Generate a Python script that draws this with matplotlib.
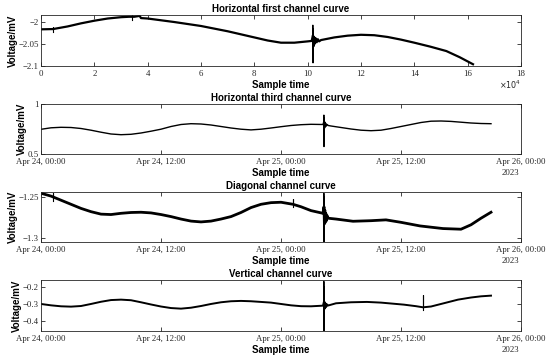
import matplotlib
matplotlib.use('Agg')
import matplotlib.pyplot as plt
import matplotlib.dates as mdates
import datetime as dt

# ---------------- data ----------------
# Panel 1: horizontal first channel (x in units of 1e4 samples)
h1_x = [0, 0.45, 1.0, 1.5, 2.0, 2.5, 3.0, 3.3, 3.5, 3.7, 3.75, 4.0,
        5.0, 6.0, 7.0, 8.0, 8.5, 9.0, 9.5, 10.0, 10.15,
        10.2, 10.22, 10.24, 10.27, 10.3, 10.34, 10.38, 10.43,
        10.5, 11.0, 11.5, 12.0, 12.5, 13.0, 13.5, 14.0, 14.6, 15.2, 15.7, 16.2]
h1_v = [-2.0166, -2.016, -2.010, -2.003, -1.997, -1.992, -1.989, -1.988, -1.988, -1.986, -1.991, -1.992,
        -2.000, -2.009, -2.021, -2.035, -2.042, -2.047, -2.047, -2.044, -2.043,
        -2.030, -2.055, -2.034, -2.049, -2.037, -2.046, -2.039, -2.044,
        -2.041, -2.035, -2.031, -2.029, -2.030, -2.034, -2.040, -2.047, -2.056, -2.066, -2.080, -2.096]
# thin glitches / spike of panel 1
h1_gx = [[0.45, 0.45, 0.45], [3.4, 3.4, 3.4], [10.19, 10.195, 10.2, 10.205, 10.21, 10.215]]
h1_gv = [[-2.016, -2.011, -2.022], [-1.988, -1.984, -1.995],
         [-2.043, -2.007, -2.093, -2.015, -2.072, -2.040]]

# Date panels: hours after 2023-04-24 00:00
h2_t = [0, 1, 2, 3, 4, 5, 6, 7, 8, 9, 10, 11, 12, 13, 14, 15, 16, 17, 18, 19, 20, 21, 22, 23, 24,
        25, 26, 27, 28.2,
        28.3, 28.34, 28.38, 28.43, 28.48, 28.54, 28.62, 28.72,
        29, 30, 31, 32, 33, 34, 35, 36, 37, 38, 39, 40, 41, 42, 43, 44, 45]
h2_v = [0.747, 0.762, 0.767, 0.765, 0.755, 0.738, 0.718, 0.700, 0.693, 0.697, 0.710, 0.728, 0.748,
        0.775, 0.795, 0.803, 0.800, 0.790, 0.775, 0.760, 0.748, 0.741, 0.748, 0.760, 0.773,
        0.785, 0.793, 0.797, 0.795,
        0.83, 0.755, 0.82, 0.77, 0.805, 0.78, 0.795, 0.785,
        0.780, 0.765, 0.750, 0.738, 0.733, 0.738, 0.755, 0.775, 0.795, 0.815, 0.828, 0.830, 0.826,
        0.818, 0.810, 0.805, 0.803]
h2_gt = [[28.28, 28.29, 28.3, 28.31, 28.32]]
h2_gv = [[0.795, 0.89, 0.573, 0.86, 0.79]]

d_t = [0, 1, 2, 3, 4, 5, 6, 7, 8, 9, 10, 11, 12, 13, 14, 15, 16, 17, 18, 19, 20, 21,
       22, 23, 24, 25.2, 26, 27, 28.2,
       28.3, 28.34, 28.38, 28.43, 28.48, 28.54, 28.62, 28.72,
       29.5, 31.2, 33, 34.5, 36, 37.9, 40.2, 42, 43, 44, 45]
d_v = [-1.2455, -1.249, -1.254, -1.259, -1.264, -1.268, -1.271, -1.2715,
       -1.270, -1.2690, -1.2687, -1.2695, -1.2715, -1.274, -1.277, -1.2795, -1.2805, -1.2795,
       -1.277, -1.274, -1.269, -1.263, -1.259, -1.257, -1.2565, -1.259, -1.262,
       -1.2667, -1.270,
       -1.262, -1.283, -1.266, -1.281, -1.270, -1.279, -1.273, -1.276,
       -1.277, -1.2797, -1.279, -1.278, -1.281, -1.2854, -1.2886, -1.2894, -1.284, -1.276, -1.2687]
d_gt = [[1.2, 1.2, 1.2], [25.2, 25.2, 25.2], [28.28, 28.29, 28.3, 28.31, 28.32]]
d_gv = [[-1.250, -1.2448, -1.2545], [-1.259, -1.253, -1.262],
        [-1.270, -1.2455, -1.3065, -1.25, -1.272]]

v_t = [0, 1, 2, 3, 4, 5, 6, 7, 8, 9, 10, 11, 12, 13, 14, 15, 16, 17, 18, 19, 20, 21, 22, 23, 24,
       25, 26, 27, 28.2,
       28.3, 28.34, 28.38, 28.43, 28.48, 28.54, 28.62, 28.72,
       29.5, 31, 32.6, 34, 36.3, 37.5, 38.2, 39, 40, 41, 41.7, 43, 44, 45]
v_v = [-0.300, -0.308, -0.3137, -0.3157, -0.312, -0.300, -0.287, -0.277, -0.2745, -0.278, -0.290,
       -0.303, -0.315, -0.324, -0.3275, -0.322, -0.312, -0.300, -0.290, -0.284, -0.282, -0.284,
       -0.288, -0.292, -0.300, -0.308, -0.313, -0.3137, -0.310,
       -0.285, -0.330, -0.290, -0.322, -0.298, -0.315, -0.303, -0.309,
       -0.296, -0.290, -0.288, -0.292, -0.304, -0.313, -0.3196, -0.315, -0.300,
       -0.285, -0.2745, -0.262, -0.255, -0.251]
v_gt = [[28.28, 28.29, 28.3, 28.31, 28.32], [38.2, 38.2, 38.2]]
v_gv = [[-0.310, -0.167, -0.46, -0.20, -0.305], [-0.3196, -0.249, -0.333]]

titles = ["Horizontal first channel curve", "Horizontal third channel curve",
          "Diagonal channel curve", "Vertical channel curve"]
date_tick_hours = [0, 12, 24, 36, 48]
date_tick_labels = ["Apr 24, 00:00", "Apr 24, 12:00", "Apr 25, 00:00", "Apr 25, 12:00", "Apr 26, 00:00"]
p1_xticks = [0, 2, 4, 6, 8, 10, 12, 14, 16, 18]

# ---------------- figure ----------------
W, H = 550, 356
fig = plt.figure(figsize=(W / 100, H / 100), dpi=100)
base = dt.datetime(2023, 4, 24)

def hrs(ts):
    return [mdates.date2num(base + dt.timedelta(hours=t)) for t in ts]

def mkax(top, bottom, left=41, right=521):
    return fig.add_axes([left / W, 1 - bottom / H, (right - left) / W, (bottom - top) / H])

serif = 'Liberation Serif'
sans = 'Liberation Sans'
tick_fs = 6.3
lab_fs = 7

def style(ax, title):
    for s in ax.spines.values():
        s.set_linewidth(0.6)
        s.set_color('#262626')
    ax.tick_params(direction='in', length=3, width=0.6, top=True, right=True,
                   labelsize=tick_fs, colors='#262626')
    ax.tick_params(axis='x', pad=3)
    ax.tick_params(axis='y', pad=1.5)
    for lab in ax.get_xticklabels() + ax.get_yticklabels():
        lab.set_fontfamily(serif)
    ax.set_title(title, fontsize=lab_fs, fontweight='bold', family=sans, pad=2)
    ax.set_xlabel('Sample time', fontsize=lab_fs, fontweight='bold', family=sans, labelpad=1)
    ax.set_ylabel('Voltage/mV', fontsize=lab_fs, fontweight='bold', family=sans, labelpad=0.5)

# Panel 1
ax1 = mkax(15, 66)
ax1.plot(h1_x, h1_v, color='black', lw=1.6)
for gx, gv in zip(h1_gx, h1_gv):
    ax1.plot(gx, gv, color='black', lw=0.8)
ax1.set_xlim(0, 18)
ax1.set_ylim(-2.1, -1.984)
ax1.set_xticks(p1_xticks)
ax1.set_xticklabels([str(v) for v in p1_xticks])
ax1.set_yticks([-2.1, -2.05, -2.0])
ax1.set_yticklabels(['\u22122.1', '\u22122.05', '\u22122'])
style(ax1, titles[0])
ax1.text(1.0, -0.24, r'$\times10^4$', transform=ax1.transAxes, ha='right', va='top',
         fontsize=5.8, family=serif, color='#262626')

def date_panel(top, bottom, t, v, gt, gv, ylim, yt, ytl, title, lw):
    ax = mkax(top, bottom)
    ax.plot(hrs(t), v, color='black', lw=lw)
    for a, b in zip(gt, gv):
        ax.plot(hrs(a), b, color='black', lw=0.8)
    ax.set_xlim(hrs([0, 48]))
    ax.set_ylim(*ylim)
    ax.set_xticks(hrs(date_tick_hours))
    ax.set_xticklabels(date_tick_labels)
    ax.set_yticks(yt)
    ax.set_yticklabels(ytl)
    style(ax, title)
    ax.text((510 - 41) / 480, -0.3, '2023', transform=ax.transAxes, ha='center', va='top',
            fontsize=tick_fs, family=serif, color='#262626')
    return ax

date_panel(104, 154, h2_t, h2_v, h2_gt, h2_gv, (0.5, 1.0), [0.5, 1.0], ['0.5', '1'], titles[1], 1.0)
date_panel(192, 242, d_t, d_v, d_gt, d_gv, (-1.305, -1.244), [-1.3, -1.25],
           ['\u22121.3', '\u22121.25'], titles[2], 2.0)
date_panel(280, 331, v_t, v_v, v_gt, v_gv, (-0.459, -0.159), [-0.4, -0.3, -0.2],
           ['\u22120.4', '\u22120.3', '\u22120.2'], titles[3], 1.4)

fig.savefig('out.png', dpi=100)
